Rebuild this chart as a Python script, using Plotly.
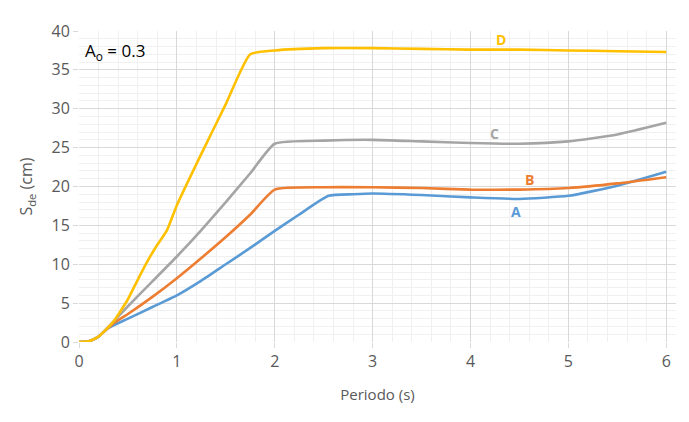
import plotly.graph_objects as go

# Periodo (s) and Sde (cm)
a_x = [0, 0.1, 0.2, 0.3, 0.5, 0.75, 1.0, 1.25, 1.5, 1.75, 2.0, 2.25, 2.55, 2.8, 3.0, 3.5, 4.0, 4.5, 5.0, 5.5, 6.0]
a_y = [0, 0.1, 0.7, 1.8, 3.0, 4.5, 6.0, 7.9, 10.0, 12.1, 14.3, 16.4, 18.8, 19.0, 19.1, 18.9, 18.6, 18.4, 18.8, 20.1, 21.9]

b_x = [0, 0.1, 0.2, 0.35, 0.5, 0.75, 1.0, 1.25, 1.5, 1.75, 2.0, 2.5, 3.0, 3.5, 4.0, 4.5, 5.0, 5.5, 6.0]
b_y = [0, 0.1, 0.7, 2.4, 3.6, 5.8, 8.2, 10.8, 13.5, 16.4, 19.6, 19.9, 19.9, 19.8, 19.6, 19.6, 19.8, 20.4, 21.2]

c_x = [0, 0.1, 0.2, 0.35, 0.5, 0.75, 1.0, 1.25, 1.5, 1.75, 2.0, 2.5, 3.0, 3.5, 4.0, 4.5, 5.0, 5.5, 6.0]
c_y = [0, 0.1, 0.7, 2.6, 4.6, 7.8, 11.0, 14.4, 18.0, 21.7, 25.5, 25.9, 26.0, 25.8, 25.6, 25.5, 25.8, 26.7, 28.2]

d_x = [0, 0.1, 0.2, 0.35, 0.5, 0.6, 0.7, 0.8, 0.9, 1.0, 1.25, 1.5, 1.75, 2.0, 2.5, 3.0, 3.5, 4.0, 4.5, 5.0, 5.5, 6.0]
d_y = [0, 0.1, 0.7, 2.6, 5.5, 8.0, 10.4, 12.5, 14.4, 17.6, 24.2, 30.6, 37.0, 37.5, 37.8, 37.8, 37.7, 37.6, 37.6, 37.5, 37.4, 37.3]

series = [
    ("A", a_x, a_y, "#5B9BD5", 4.47, 16.8),
    ("B", b_x, b_y, "#ED7D31", 4.6, 20.9),
    ("C", c_x, c_y, "#A5A5A5", 4.25, 26.8),
    ("D", d_x, d_y, "#FFC000", 4.31, 38.9),
]

fig = go.Figure()
for name, xs, ys, color, lx, ly in series:
    fig.add_trace(go.Scatter(x=xs, y=ys, mode="lines", name=name,
                             line=dict(color=color, width=2.6, shape="spline", smoothing=0.5)))
    fig.add_annotation(x=lx, y=ly, text="<b>" + name + "</b>", showarrow=False,
                       font=dict(color=color, size=14))

fig.add_annotation(x=0.04, y=37.4, xanchor="left", text="A<sub>o</sub> = 0.3",
                   showarrow=False, font=dict(color="#000000", size=17))

axis_common = dict(
    showgrid=True, gridcolor="#D9D9D9", gridwidth=1,
    zeroline=False, showline=False,
    ticks="outside", ticklen=5, tickcolor="#D9D9D9",
    tickfont=dict(color="#595959", size=16),
)

fig.update_xaxes(range=[0, 6.1], dtick=1, tick0=0,
                 minor=dict(dtick=0.2, showgrid=True, gridcolor="#F0F0F0", ticks=""),
                 title=dict(text="Periodo (s)", font=dict(color="#595959", size=15), standoff=18),
                 **axis_common)
fig.update_yaxes(range=[0, 40], dtick=5, tick0=0,
                 minor=dict(dtick=1, showgrid=True, gridcolor="#F0F0F0", ticks=""),
                 title=dict(text="S<sub>de</sub> (cm)", font=dict(color="#595959", size=16), standoff=14),
                 **axis_common)

# page body adds an 8px offset, so the figure is shrunk to fit the window
fig.update_layout(
    width=681, height=414,
    margin=dict(l=71, r=13, t=13, b=80),
    paper_bgcolor="white", plot_bgcolor="white",
    showlegend=False,
    font=dict(family="Open Sans, sans-serif"),
)

fig.write_html("out.html")
